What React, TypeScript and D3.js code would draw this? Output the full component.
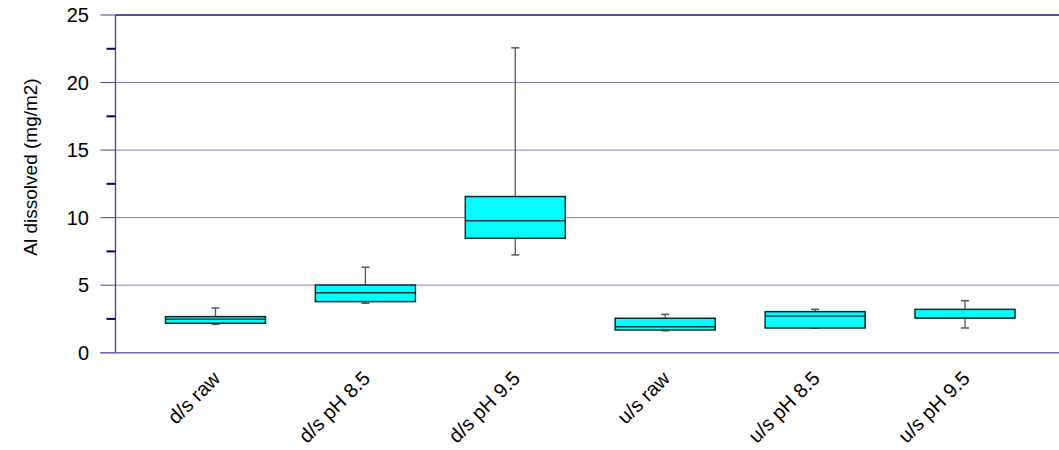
import React from "react";
import * as d3 from "d3";

const categories = ["d/s raw", "d/s pH 8.5", "d/s pH 9.5", "u/s raw", "u/s pH 8.5", "u/s pH 9.5"];
const whiskerLow = [2.1, 3.66, 7.24, 1.63, 1.83, 1.83];
const q1 = [2.18, 3.78, 8.47, 1.68, 1.83, 2.57];
const median = [2.47, 4.44, 9.76, 1.93, 2.72, 2.57];
const q3 = [2.67, 5.01, 11.56, 2.55, 3.04, 3.21];
const whiskerHigh = [3.31, 6.33, 22.57, 2.84, 3.21, 3.85];
const yTicks = [0, 5, 10, 15, 20, 25];
const yMinorTicks = [2.5, 7.5, 12.5, 17.5, 22.5];
const yLabel = "Al dissolved (mg/m2)";

const W = 1059;
const H = 450;
const left = 115.5;
const right = 1065;
const top = 15;
const bottom = 352.7;

export default function App() {
  const y = d3.scaleLinear().domain([0, 25]).range([bottom, top]);
  const x = d3.scalePoint<string>().domain(categories).range([left, right]).padding(0.667);
  const boxW = 100;
  const capW = 8;
  const font = "Arial, 'Liberation Sans', sans-serif";

  return (
    <svg width={W} height={H} style={{ position: "absolute", left: 0, top: 0 }} fontFamily={font}>
      <rect x={0} y={0} width={W} height={H} fill="white" />
      {yTicks.filter((t) => t > 0 && t < 25).map((t) => (
        <line key={"g" + t} x1={left} x2={W} y1={y(t)} y2={y(t)} stroke="#000080" strokeWidth={1} strokeDasharray="1,1" />
      ))}
      <line x1={left} x2={W} y1={y(25)} y2={y(25)} stroke="#1a1a80" strokeWidth={1.3} />
      <line x1={left} x2={left} y1={top} y2={bottom} stroke="#4040a0" strokeWidth={1.3} />
      {yTicks.map((t) => (
        <g key={"t" + t}>
          <line x1={left - 15} x2={left} y1={y(t)} y2={y(t)} stroke="#4040a0" strokeWidth={1} />
          <text x={89} y={y(t)} dy="0.36em" textAnchor="end" fontSize={20} fill="#000">{t}</text>
        </g>
      ))}
      {yMinorTicks.map((t) => (
        <line key={"m" + t} x1={left - 9} x2={left} y1={y(t)} y2={y(t)} stroke="#000080" strokeWidth={2} />
      ))}
      {categories.map((c, i) => {
        const cx = x(c)!;
        return (
          <g key={c}>
            <line x1={cx} x2={cx} y1={y(whiskerHigh[i])} y2={y(q3[i])} stroke="#555" strokeWidth={1.3} />
            <line x1={cx} x2={cx} y1={y(q1[i])} y2={y(whiskerLow[i])} stroke="#555" strokeWidth={1.3} />
            <line x1={cx - capW / 2} x2={cx + capW / 2} y1={y(whiskerHigh[i])} y2={y(whiskerHigh[i])} stroke="#555" strokeWidth={1.5} />
            <line x1={cx - capW / 2} x2={cx + capW / 2} y1={y(whiskerLow[i])} y2={y(whiskerLow[i])} stroke="#555" strokeWidth={1.5} />
            <rect x={cx - boxW / 2} y={y(q3[i])} width={boxW} height={y(q1[i]) - y(q3[i])} fill="#00ffff" stroke="#0a2a2a" strokeWidth={1.5} />
            <line x1={cx - boxW / 2} x2={cx + boxW / 2} y1={y(median[i])} y2={y(median[i])} stroke="#0a3a3a" strokeWidth={1.5} />
          </g>
        );
      })}
      <line x1={left - 15} x2={W} y1={bottom} y2={bottom} stroke="#6a6ab0" strokeWidth={1.5} />
      {categories.map((c) => (
        <text key={"l" + c} transform={`translate(${x(c)! + 6},${bottom + 27}) rotate(-45)`} textAnchor="end" fontSize={20} fill="#000">{c}</text>
      ))}
      <text transform={`translate(37,167) rotate(-90)`} textAnchor="middle" fontSize={19} fill="#000">{yLabel}</text>
    </svg>
  );
}
